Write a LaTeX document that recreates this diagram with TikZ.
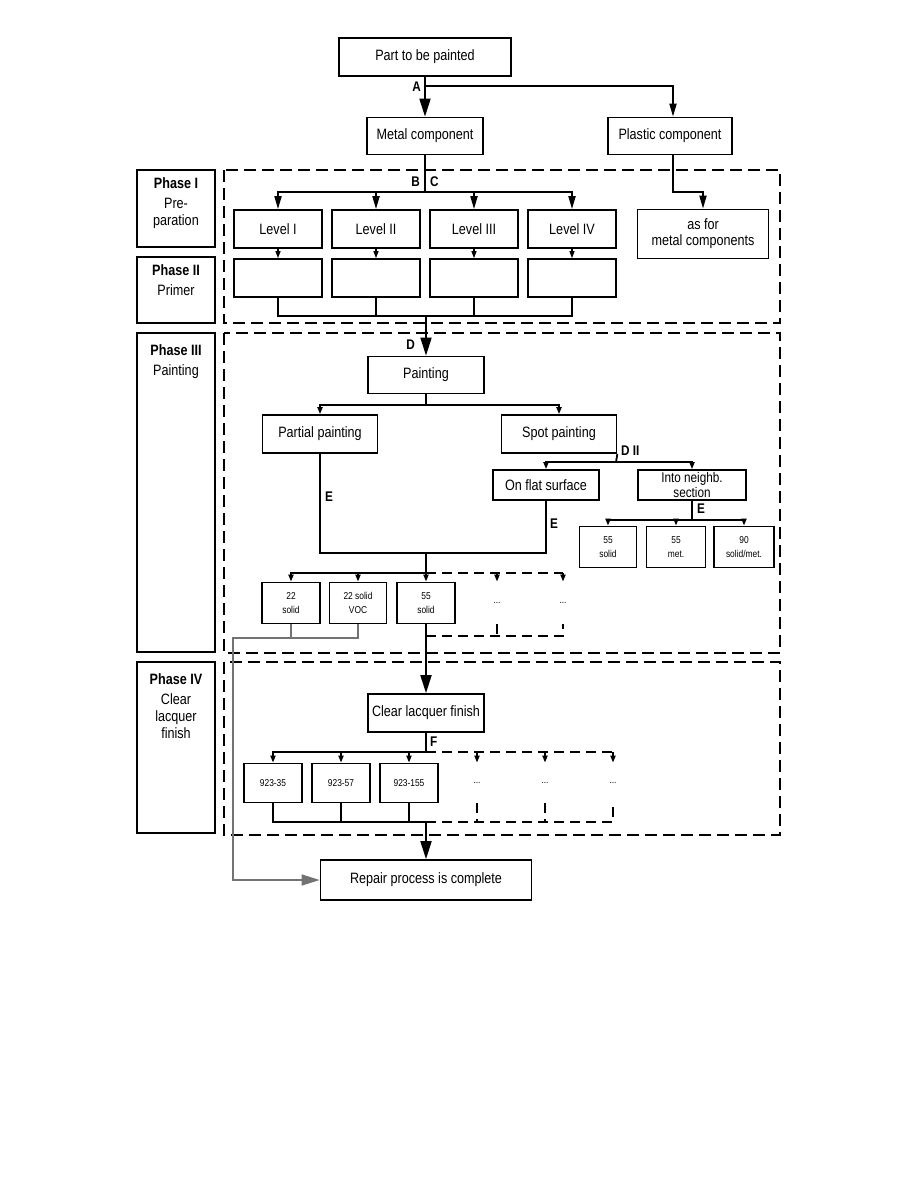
\documentclass[tikz,border=0pt]{standalone}
\usepackage{fontspec}
\setmainfont{Liberation Sans}[FakeStretch=0.84]
\usetikzlibrary{arrows.meta}

\tikzset{
  box/.style={draw,line width=1.7pt,align=center,inner sep=1pt,font=\fontsize{15}{16}\selectfont},
  smallbox/.style={draw,line width=1.7pt,align=center,inner sep=1pt,
    minimum width=58pt,minimum height=41pt,font=\fontsize{10}{14}\selectfont},
  ghost/.style={smallbox,draw=none},
  phasebox/.style={draw,line width=1.7pt},
  phasetext/.style={anchor=north,align=center,font=\fontsize{15}{17}\selectfont},
  region/.style={line width=2.6pt,dash pattern=on 12pt off 6pt},
  link/.style={line width=1.8pt},
  thinlink/.style={line width=1.2pt},
  greylink/.style={line width=1.5pt,draw=black!55},
  dlink/.style={line width=1.8pt,dash pattern=on 10pt off 6pt},
  bigarr/.style={-{Triangle[length=18pt,width=11pt]}},
  midarr/.style={-{Triangle[length=13pt,width=7pt]}},
  smallarr/.style={-{Triangle[length=7pt,width=5pt]}},
  lbl/.style={font=\fontsize{14}{14}\selectfont\bfseries,inner sep=1pt},
}

\begin{document}
\begin{tikzpicture}[x=1pt,y=-1pt]
\useasboundingbox (0,0) rectangle (918,1188);

% phase column
\draw[phasebox] (137,170) rectangle (215,247);
\node[phasetext] (ph1) at (176,174) {\textbf{Phase I}\\[3pt]Pre-\\paration};
\draw[phasebox] (137,257) rectangle (215,323);
\node[phasetext] (ph2) at (176,261) {\textbf{Phase II}\\[3pt]Primer};
\draw[phasebox] (137,333) rectangle (215,652);
\node[phasetext] (ph3) at (176,341) {\textbf{Phase III}\\[3pt]Painting};
\draw[phasebox] (137,662) rectangle (215,833);
\node[phasetext] (ph4) at (176,670) {\textbf{Phase IV}\\[3pt]Clear\\lacquer\\finish};

% dashed phase regions
\draw[region] (224,170) rectangle (780,323);
\draw[region] (224,333) rectangle (780,653);
\draw[region] (224,662) rectangle (780,835);

% top
\node[box,minimum width=172pt,minimum height=38pt] (part) at (425,57) {Part to be painted};
\node[box,minimum width=116pt,minimum height=37pt] (metal) at (425,136) {Metal component};
\node[box,minimum width=124pt,minimum height=37pt] (plastic) at (670,136) {Plastic component};
\node[box,minimum width=131pt,minimum height=49pt] (asmetal) at (703,234) {as for\\metal components};

\coordinate (ja) at (425,86);
\draw[link] (part.south) -- (ja);
\draw[link,bigarr] (ja) -- (metal.north);
\draw[link,midarr] (ja) -| ([xshift=3pt]plastic.north);
\node[lbl,anchor=east] (la) at (422,87) {A};

\coordinate (jp) at (673,192);
\draw[link,midarr] (plastic.south -| jp) -- (jp) -| (asmetal.north);

% phase I and II
\foreach \n/\x/\t in {1/278/Level I,2/376/Level II,3/474/Level III,4/572/Level IV} {
  \node[box,minimum width=88pt,minimum height=38pt] (lvl\n) at (\x,229) {\t};
  \node[box,minimum width=88pt,minimum height=38pt] (prim\n) at (\x,278) {};
  \draw[thinlink,smallarr] (lvl\n.south) -- (prim\n.north);
}
\coordinate (jb) at (425,192);
\draw[link] (metal.south) -- (jb);
\foreach \n in {1,...,4} \draw[link,midarr] (jb) -| (lvl\n.north);
\node[lbl,anchor=east] (lb) at (421,182) {B};
\node[lbl,anchor=west] (lc) at (429,182) {C};

\coordinate (jd) at (426,316);
\draw[thinlink] (prim1.south) |- (jd) -| (prim4.south);
\draw[thinlink] (prim2.south) -- (prim2.south |- jd);
\draw[thinlink] (prim3.south) -- (prim3.south |- jd);

% phase III
\node[box,minimum width=116pt,minimum height=37pt] (painting) at (426,375) {Painting};
\draw[link,bigarr] (jd) -- (painting.north);
\node[lbl,anchor=east] (ld) at (416,345) {D};

\node[box,minimum width=115pt,minimum height=38pt] (partial) at (320,434) {Partial painting};
\node[box,minimum width=115pt,minimum height=38pt] (spot) at (559,434) {Spot painting};
\coordinate (je) at (426,405);
\draw[link] (painting.south) -- (je);
\draw[link,smallarr] (je) -| (partial.north);
\draw[link,smallarr] (je) -| (spot.north);

\node[box,minimum width=106pt,minimum height=30pt] (flat) at (546,485) {On flat surface};
\node[box,minimum width=108pt,minimum height=30pt,font=\fontsize{14}{13}\selectfont] (neighb) at (692,485) {Into neighb.\\section};
\coordinate (jf) at (616,462);
\draw[link] (spot.south east) -- (jf);
\draw[link,smallarr] (jf) -| (flat.north);
\draw[link,smallarr] (jf) -| (neighb.north);
\node[lbl,anchor=west] (ldii) at (620,451) {D II};

\node[smallbox,minimum width=57pt] (n55s) at (608,547) {55\\solid};
\node[smallbox,minimum width=59pt] (n55m) at (676,547) {55\\met.};
\node[smallbox,minimum width=60pt] (n90) at (744,547) {90\\solid/met.};
\coordinate (jg) at (692,520);
\draw[link] (neighb.south) -- (jg);
\foreach \b in {n55s,n55m,n90} \draw[link,smallarr] (jg) -| (\b.north);
\node[lbl,anchor=west] (le3) at (696,509) {E};

\coordinate (jh) at (426,553);
\draw[link] (partial.south) |- (jh) -| (flat.south);
\node[lbl,anchor=west] (le1) at (324,497) {E};
\node[lbl,anchor=west] (le2) at (549,524) {E};

\node[smallbox] (c22s) at (291,603) {22\\solid};
\node[smallbox,minimum width=57pt] (c22v) at (358,603) {22 solid\\VOC};
\node[smallbox] (c55s) at (426,603) {55\\solid};
\node[ghost] (dA) at (497,603) {...};
\node[ghost] (dB) at (563,603) {...};
\coordinate (ji) at (426,573);
\draw[link] (jh) -- (ji);
\draw[link,smallarr] (ji) -| (c22s.north);
\draw[link,smallarr] (ji) -| (c22v.north);
\draw[link,smallarr] (ji) -- (c55s.north);
\draw[dlink] (ji) -- (ji -| dB.north);
\draw[link,smallarr] (ji -| dA.north) -- (dA.north);
\draw[link,smallarr] (ji -| dB.north) -- (dB.north);

\coordinate (jl) at (426,636);
\draw[dlink] (jl) -| (dB.south);
\draw[dlink] (dA.south) -- (dA.south |- jl);

% phase IV
\node[box,minimum width=116pt,minimum height=38pt] (clear) at (426,713) {Clear lacquer finish};
\draw[link,bigarr] (c55s.south) -- (clear.north);
\coordinate (jm) at (426,752);
\draw[link] (clear.south) -- (jm);
\node[lbl,anchor=west] (lf) at (429,742) {F};

\foreach \n/\x/\t in {35/273/923-35,57/341/923-57,155/409/923-155} {
  \node[smallbox,minimum height=39pt] (f\n) at (\x,783) {\t};
  \draw[link,smallarr] (jm) -| (f\n.north);
}
\foreach \n/\x in {1/477,2/545,3/613} {
  \node[ghost,minimum height=39pt] (g\n) at (\x,783) {...};
  \draw[link,smallarr] (jm -| g\n.north) -- (g\n.north);
}
\draw[dlink] (jm) -- (jm -| g3.north);

\coordinate (jn) at (426,822);
\draw[link] (f35.south) |- (jn);
\draw[link] (f57.south) -- (f57.south |- jn);
\draw[link] (f155.south) -- (f155.south |- jn);
\draw[dlink] (jn) -| (g3.south);
\draw[dlink] (g1.south) -- (g1.south |- jn);
\draw[dlink] (g2.south) -- (g2.south |- jn);

\node[box,minimum width=211pt,minimum height=40pt] (done) at (426,880) {Repair process is complete};
\draw[link,bigarr] (jn) -- (done.north);

% grey bypass
\coordinate (jk) at (233,638);
\draw[greylink] (c22s.south) -- (c22s.south |- jk);
\draw[greylink,-{Triangle[length=18pt,width=11pt]}] (c22v.south) |- (jk) |- (done.west);
\end{tikzpicture}
\end{document}
